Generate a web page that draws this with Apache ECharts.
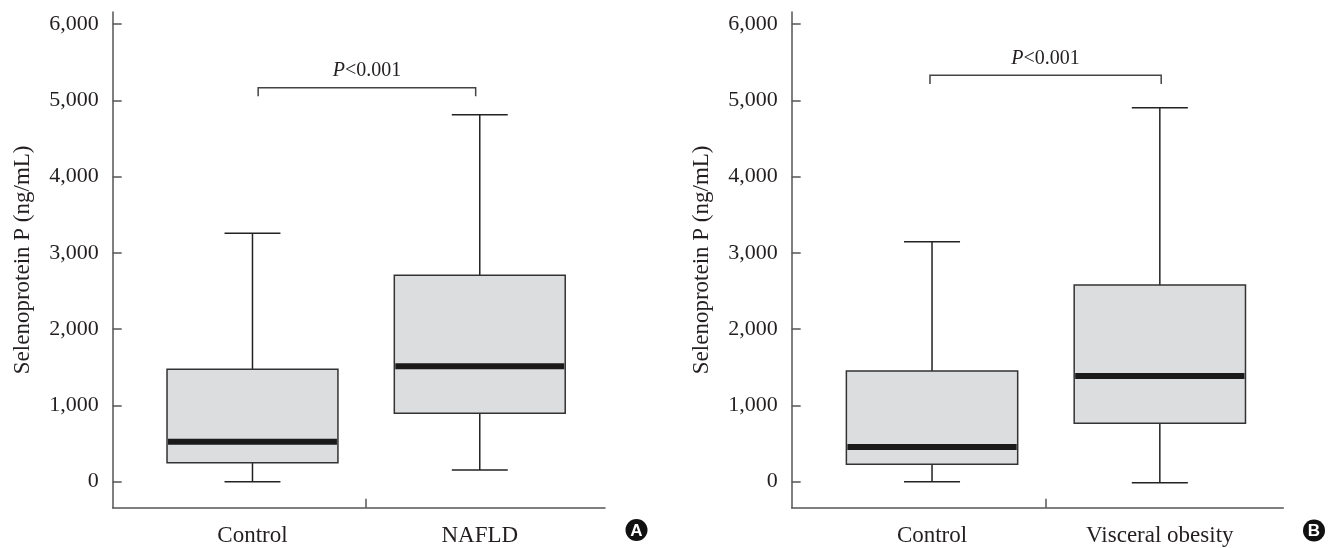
<!DOCTYPE html>
<html>
<head>
<meta charset="utf-8">
<script src="https://cdn.jsdelivr.net/npm/echarts@6/dist/echarts.min.js"></script>
<style>
  html, body { margin: 0; padding: 0; background: #fff; }
  #main { width: 1338px; height: 548px; }
</style>
</head>
<body>
<div id="main"></div>
<script>
// data
const categoriesA = ['Control', 'NAFLD'];
const categoriesB = ['Control', 'Visceral obesity'];
// [min, q1, median, q3, max]
const boxA = [
  [0, 249, 524, 1473, 3256],
  [153, 897, 1513, 2706, 4811]
];
const boxB = [
  [0, 228, 455, 1451, 3146],
  [-13, 766, 1386, 2579, 4903]
];
const yTicks = [0, 1000, 2000, 3000, 4000, 5000, 6000];
const pText = 'P<0.001';
// bracket height: [top, end of the drop]
const bracketA = [5165, 5052];
const bracketB = [5328, 5214];

const FONT = 'Liberation Serif';
const TXT = '#231f20';
const AXIS = '#555';

const chart = echarts.init(document.getElementById('main'), null, { renderer: 'canvas' });

function renderBox(params, api) {
  const x = api.value(0);
  const half = api.size([0.752, 0])[0] / 2;
  const capHalf = api.size([0.246, 0])[0] / 2;
  const pMin = api.coord([x, api.value(1)]);
  const pQ1 = api.coord([x, api.value(2)]);
  const pMed = api.coord([x, api.value(3)]);
  const pQ3 = api.coord([x, api.value(4)]);
  const pMax = api.coord([x, api.value(5)]);
  const cx = pMed[0];
  const line = { stroke: '#222', lineWidth: 1.5 };
  return {
    type: 'group',
    children: [
      { type: 'line', shape: { x1: cx, y1: pQ3[1], x2: cx, y2: pMax[1] }, style: line },
      { type: 'line', shape: { x1: cx - capHalf, y1: pMax[1], x2: cx + capHalf, y2: pMax[1] }, style: line },
      { type: 'line', shape: { x1: cx, y1: pQ1[1], x2: cx, y2: pMin[1] }, style: line },
      { type: 'line', shape: { x1: cx - capHalf, y1: pMin[1], x2: cx + capHalf, y2: pMin[1] }, style: line },
      { type: 'rect', shape: { x: cx - half, y: pQ3[1], width: half * 2, height: pQ1[1] - pQ3[1] },
        style: { fill: '#dcdddf', stroke: '#333', lineWidth: 1.5 } },
      { type: 'line', shape: { x1: cx - half + 1, y1: pMed[1], x2: cx + half - 1, y2: pMed[1] },
        style: { stroke: '#1a1a1a', lineWidth: 6 } }
    ]
  };
}

function renderBracket(params, api) {
  const l = api.coord([api.value(0), api.value(2)]);
  const r = api.coord([api.value(1), api.value(2)]);
  const dl = api.coord([api.value(0), api.value(3)]);
  const st = { stroke: '#444', lineWidth: 1.5, fill: null };
  return {
    type: 'group',
    children: [
      { type: 'polyline', shape: { points: [[l[0], dl[1]], [l[0], l[1]], [r[0], r[1]], [r[0], dl[1]]] }, style: st },
      { type: 'text', x: (l[0] + r[0]) / 2, y: l[1] - 17,
        style: {
          text: '{i|' + pText.charAt(0) + '}' + pText.slice(1),
          align: 'center', verticalAlign: 'middle',
          fontFamily: FONT, fontSize: 20, fill: TXT,
          rich: { i: { fontStyle: 'italic', fontFamily: FONT, fontSize: 20, fill: TXT } }
        } }
    ]
  };
}

function xAxisFor(gridIndex, cats, min, max) {
  return {
    type: 'value', gridIndex: gridIndex, min: min, max: max,
    axisLine: { show: true, onZero: false, lineStyle: { color: AXIS, width: 1.5 } },
    axisTick: { show: true, inside: true, length: 9, customValues: [0.5], lineStyle: { color: AXIS, width: 1.5 } },
    axisLabel: {
      customValues: [0, 1],
      formatter: function (v) { return cats[Math.round(v)]; },
      margin: 17, fontFamily: FONT, fontSize: 23, color: TXT
    },
    splitLine: { show: false }
  };
}

function yAxisFor(gridIndex) {
  return {
    type: 'value', gridIndex: gridIndex, min: -341, max: 6158,
    name: 'Selenoprotein P (ng/mL)', nameLocation: 'middle', nameGap: 78,
    nameTextStyle: { fontFamily: FONT, fontSize: 23, color: TXT },
    axisLine: { show: true, onZero: false, lineStyle: { color: AXIS, width: 1.5 } },
    axisTick: { show: true, inside: true, length: 9, customValues: yTicks, lineStyle: { color: AXIS, width: 1.5 } },
    axisLabel: {
      customValues: yTicks,
      formatter: function (v) { return v.toLocaleString('en-US'); },
      margin: 14, fontFamily: FONT, fontSize: 22, color: TXT
    },
    splitLine: { show: false }
  };
}

function badge(letter, x, y) {
  return {
    type: 'group', x: x, y: y,
    children: [
      { type: 'circle', shape: { cx: 0, cy: 0, r: 11 }, style: { fill: '#111' } },
      { type: 'text', x: 0, y: 1, style: { text: letter, align: 'center', verticalAlign: 'middle',
        fontFamily: 'Liberation Sans', fontWeight: 'bold', fontSize: 17, fill: '#fff' } }
    ]
  };
}

const option = {
  animation: false,
  backgroundColor: '#fff',
  grid: [
    { left: 112.7, top: 12, width: 492.3, height: 495.7, outerBoundsMode: 'none' },
    { left: 791.7, top: 12, width: 491.6, height: 495.7, outerBoundsMode: 'none' }
  ],
  xAxis: [
    xAxisFor(0, categoriesA, -0.615, 1.551),
    xAxisFor(1, categoriesB, -0.616, 1.542)
  ],
  yAxis: [yAxisFor(0), yAxisFor(1)],
  series: [
    {
      type: 'custom', xAxisIndex: 0, yAxisIndex: 0, renderItem: renderBox,
      data: boxA.map(function (b, i) { return [i].concat(b); })
    },
    {
      type: 'custom', xAxisIndex: 1, yAxisIndex: 1, renderItem: renderBox,
      data: boxB.map(function (b, i) { return [i].concat(b); })
    },
    {
      type: 'custom', xAxisIndex: 0, yAxisIndex: 0, renderItem: renderBracket,
      data: [[0.025, 0.982, bracketA[0], bracketA[1]]]
    },
    {
      type: 'custom', xAxisIndex: 1, yAxisIndex: 1, renderItem: renderBracket,
      data: [[-0.009, 1.006, bracketB[0], bracketB[1]]]
    }
  ],
  graphic: [badge('A', 636.5, 530), badge('B', 1314, 530.5)]
};

chart.setOption(option);
</script>
</body>
</html>
